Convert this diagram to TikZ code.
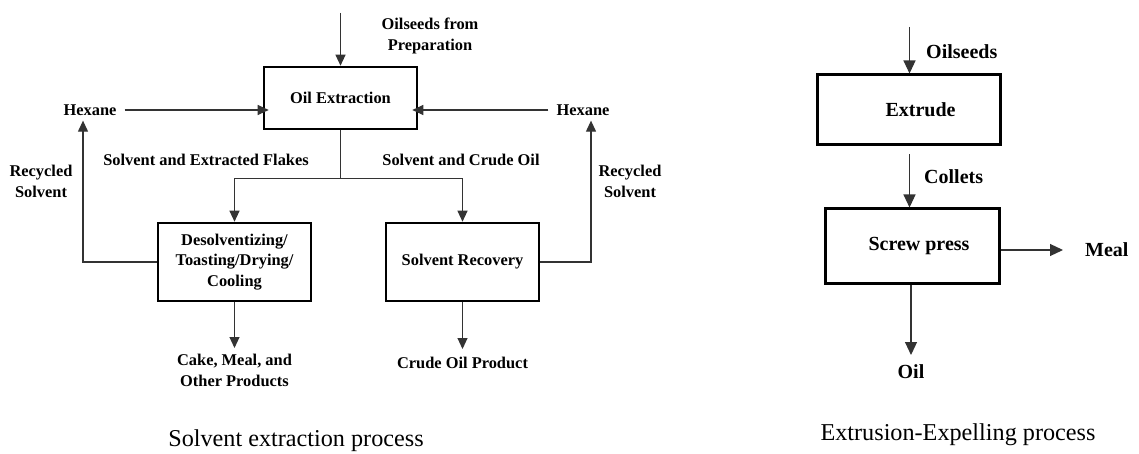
\documentclass[tikz,border=0pt]{standalone}
\usepackage{fontspec}
\setmainfont{Liberation Serif}
\usetikzlibrary{arrows.meta}
\begin{document}
\begin{tikzpicture}[x=1pt,y=-1pt,
  lab/.style={font=\fontsize{16.4}{20.8}\selectfont\bfseries, align=center, inner sep=2pt},
  rlab/.style={font=\fontsize{20}{22}\selectfont\bfseries, inner sep=2pt},
  captxt/.style={font=\fontsize{24.2}{26}\selectfont, inner sep=0pt},
  box/.style={draw, line width=2.6pt, align=center, inner sep=0pt, font=\fontsize{16.4}{20.5}\selectfont\bfseries},
  rbox/.style={draw, line width=3pt, inner sep=0pt, font=\fontsize{20}{22}\selectfont\bfseries},
  conn/.style={draw=black!80, line width=1.1pt},
  arr/.style={conn, -{Triangle[length=11pt,width=10pt]}},
  rarr/.style={conn, -{Triangle[length=13pt,width=12pt]}}
]
\useasboundingbox (0,0) rectangle (1139,454);
\fill[white] (0,0) rectangle (1139,454);

% ---------- Solvent extraction process ----------
\node[box, minimum width=153, minimum height=62] (oe) at (340.5,98) {Oil Extraction};
\node[box, minimum width=153, minimum height=78] (des) at (234.5,262) {Desolventizing/\\Toasting/Drying/\\Cooling};
\node[box, minimum width=153, minimum height=78] (sr) at (462.5,262) {Solvent Recovery};

\coordinate (top) at (340.5,13);
\node[lab] (seeds) at (430,36) {Oilseeds from\\Preparation};
\node[lab] (hexL) at (90,110) {Hexane};
\node[lab] (hexR) at (583,110) {Hexane};
\node[lab] (recL) at (41,181) {Recycled\\Solvent};
\node[lab] (recR) at (630,181) {Recycled\\Solvent};
\node[lab] (sef) at (206,160) {Solvent and Extracted Flakes};
\node[lab] (sco) at (461,160) {Solvent and Crude Oil};
\node[lab, anchor=north] (cake) at (234.5,352) {Cake, Meal, and\\Other Products};
\node[lab, anchor=north] (crude) at (462.5,355) {Crude Oil Product};

\draw[arr] (top) -- (oe.north);
\draw[arr] ([xshift=6]hexL.east) -- ([xshift=6]hexL.east -| oe.west);
\draw[arr] ([xshift=-6]hexR.west) -- ([xshift=-6]hexR.west -| oe.east);
\draw[conn] (oe.south) -- ++(0,48) coordinate (split);
\draw[arr] (split) -| (des.north);
\draw[arr] (split) -| (sr.north);
\draw[arr] (des.west) -| ([xshift=-7,yshift=-3]hexL.south);
\draw[arr] (sr.east) -| ([xshift=8,yshift=-3]hexR.south);
\draw[arr] (des.south) -- ([yshift=4]cake.north);
\draw[arr] (sr.south) -- ([yshift=6]crude.north);

\node[captxt] (capL) at (296,441) {Solvent extraction process};

% ---------- Extrusion-Expelling process ----------
\node[rbox, minimum width=183, minimum height=70] (ex) at (908.5,110) {\hspace*{24pt}Extrude};
\node[rbox, minimum width=174, minimum height=74] (sp) at (912,246) {\hspace*{14pt}Screw press};
\coordinate (rtop) at (909.5,27);
\node[rlab, anchor=west] (oils) at (924,52) {Oilseeds};
\node[rlab, anchor=west] (coll) at (922,177) {Collets};
\node[rlab, anchor=west] (meal) at (1083,250) {Meal};
\node[rlab, anchor=north] (oil) at (911,362) {Oil};

\draw[rarr] (rtop) -- ([xshift=1]ex.north);
\draw[rarr] ([xshift=1,yshift=-8]ex.south) -- ([xshift=1]ex.south |- sp.north);
\draw[rarr] ([yshift=-4]sp.east) -- ([xshift=-20]meal.west);
\draw[rarr] ([xshift=-1]sp.south) -- ([yshift=7]oil.north);

\node[captxt] (capR) at (958,435) {Extrusion-Expelling process};
\end{tikzpicture}
\end{document}
